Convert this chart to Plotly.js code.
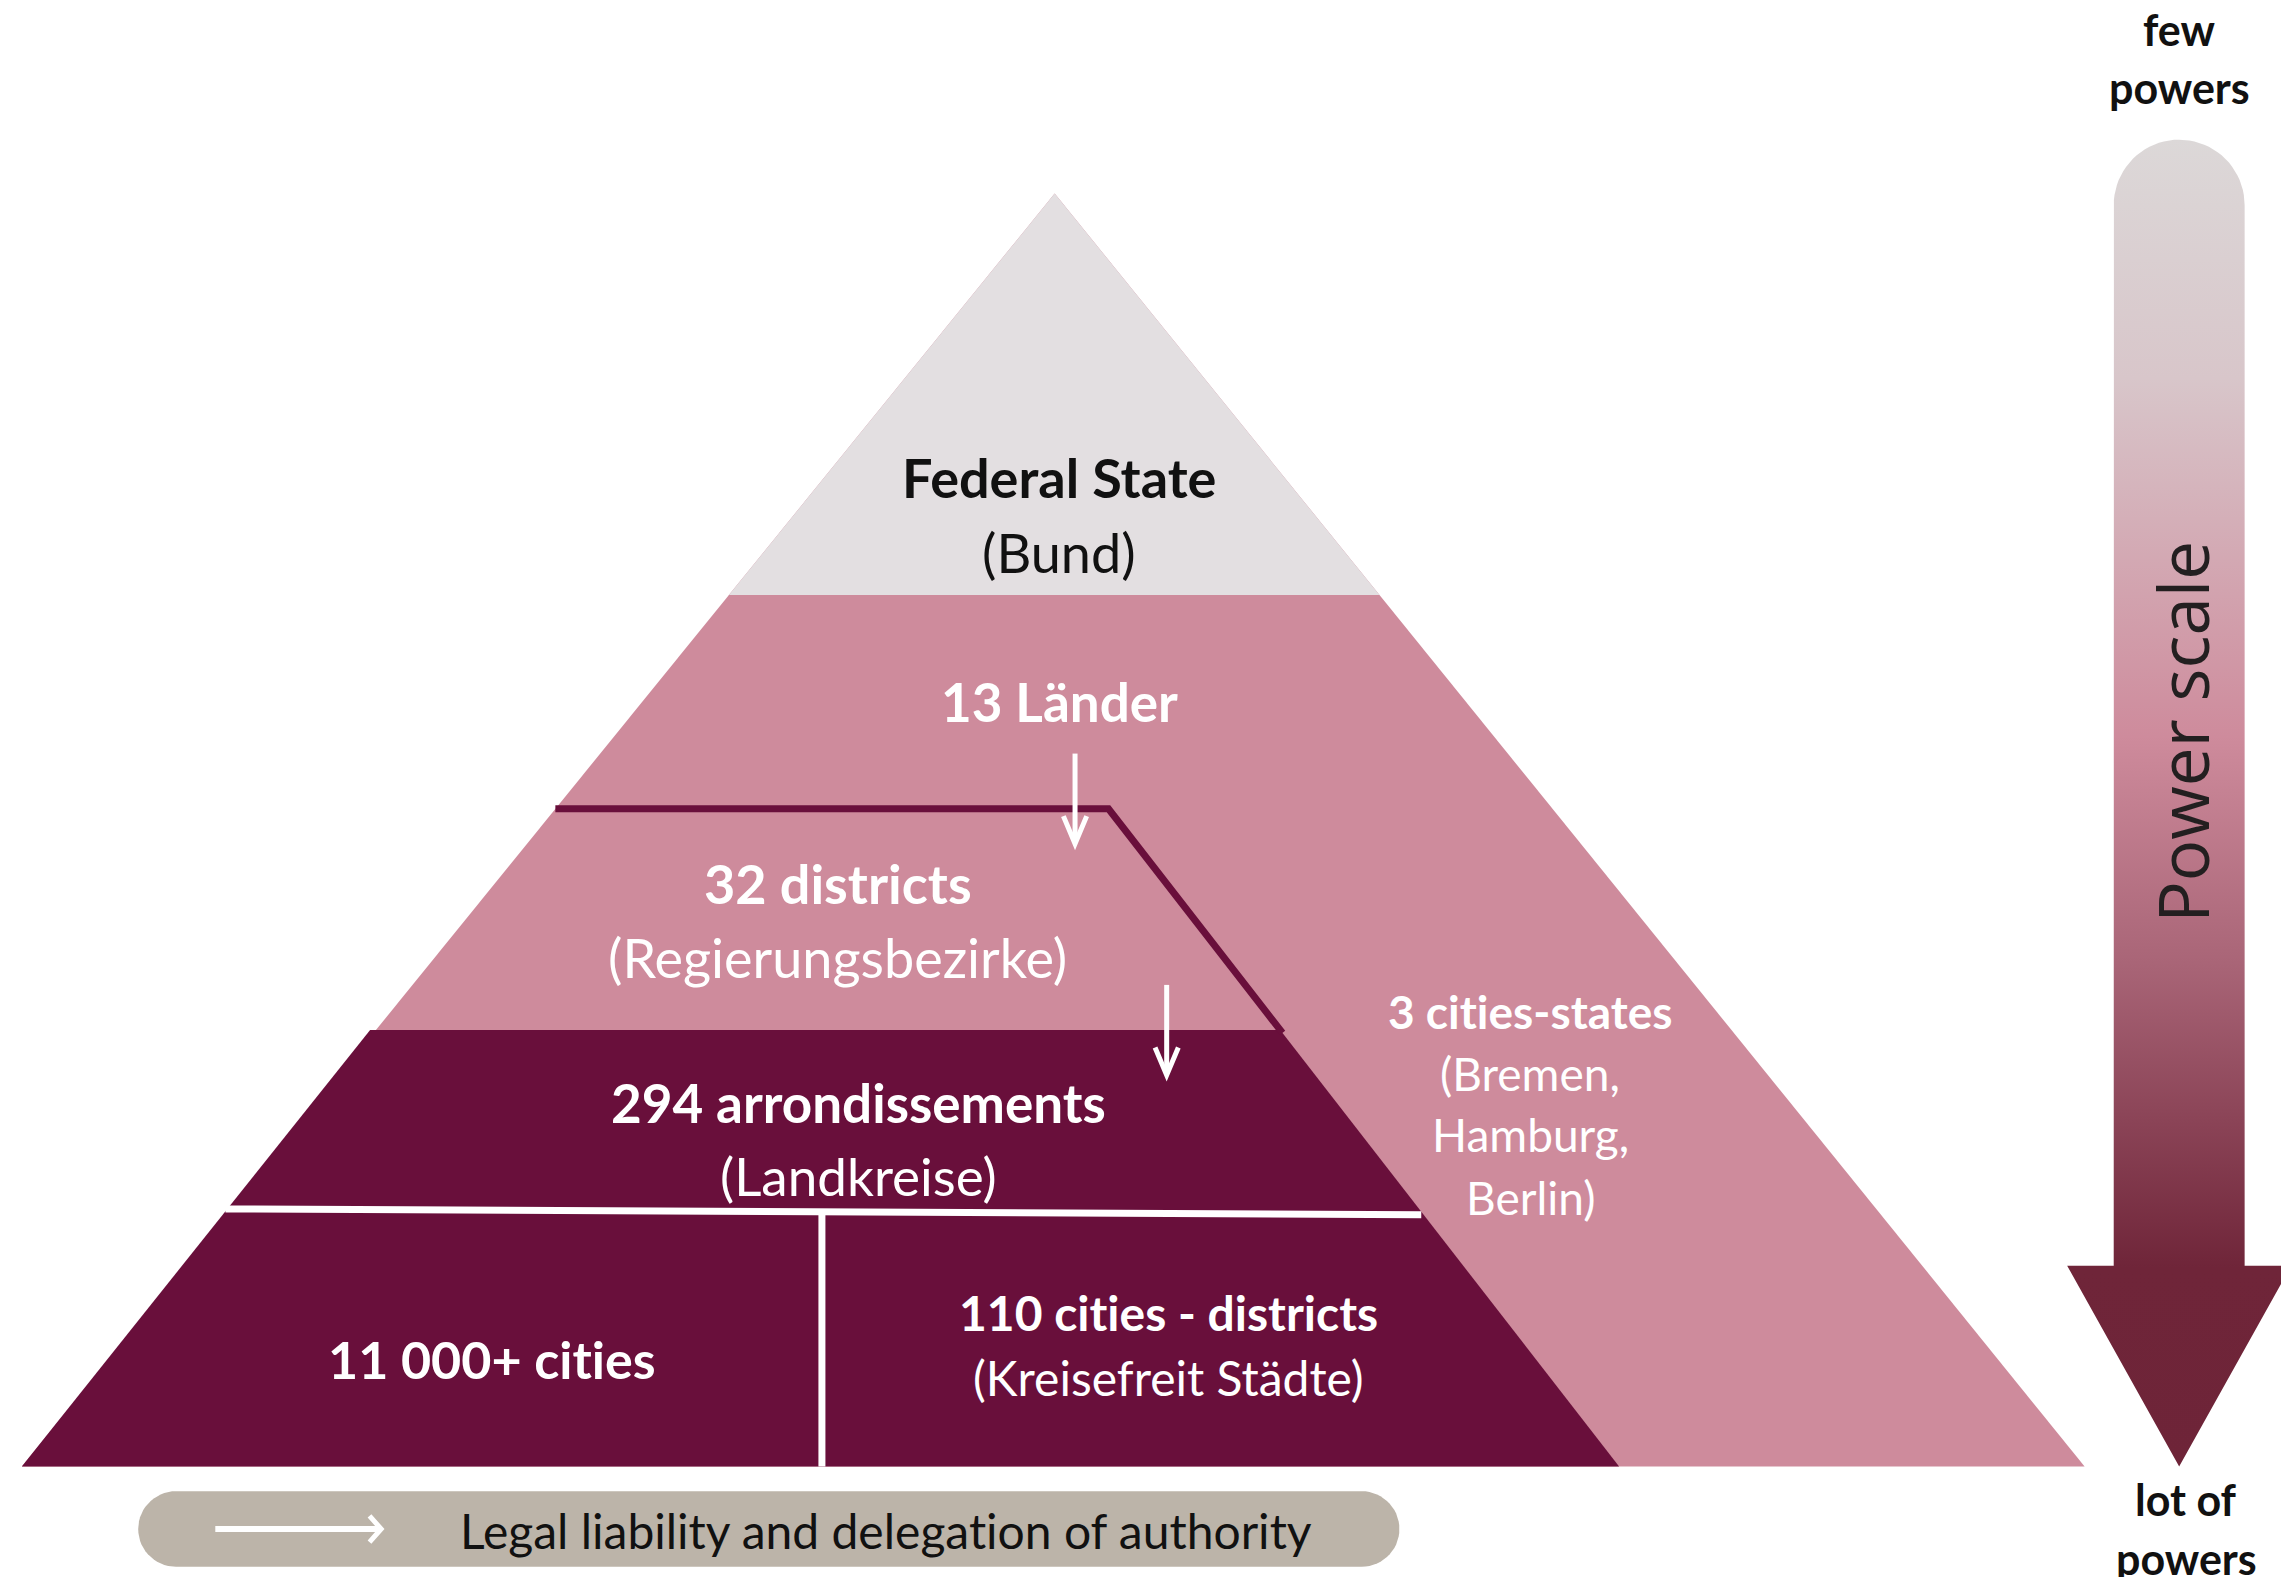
<!DOCTYPE html>
<html>
<head>
<meta charset="utf-8">
<script src="https://cdn.plot.ly/plotly-3.0.1.min.js"></script>
<style>
html,body{margin:0;padding:0;background:#ffffff;overflow:hidden}
#chart{width:2281px;height:1577px}
text{font-variant-ligatures:none;font-feature-settings:"liga" 0,"clig" 0}
</style>
</head>
<body>
<div id="chart"></div>
<script>
// ---------- content (text of the diagram) ----------
const levelTitles = ['Federal State', '13 Länder', '32 districts', '294 arrondissements', '11 000+ cities', '110 cities - districts', '3 cities-states'];
const levelSubtitles = [['(Bund)'], [], ['(Regierungsbezirke)'], ['(Landkreise)'], [], ['(Kreisefreit Städte)'], ['(Bremen,', 'Hamburg,', 'Berlin)']];
const scaleTopLabel = ['few', 'powers'];
const scaleBottomLabel = ['lot of', 'powers'];
const scaleTitle = 'Power scale';
const legendLabel = 'Legal liability and delegation of authority';

// ---------- layout geometry (drawing units, y downwards) ----------
const W = 1568, H = 1084;
const apex = [725, 133], baseY = 1008, baseL = 15, baseR = 1433;
const fedY = 409, lineY = 556, darkY = 708;
const innerTop = [762, 556], innerBase = [1113, 1008];
const leftAt = y => apex[0] + (baseL - apex[0]) * (y - apex[1]) / (baseY - apex[1]);
const rightAt = y => apex[0] + (baseR - apex[0]) * (y - apex[1]) / (baseY - apex[1]);
const innerAt = y => innerTop[0] + (innerBase[0] - innerTop[0]) * (y - innerTop[1]) / (innerBase[1] - innerTop[1]);

const textPos = [
  {t: [728, 328], s: [[728, 380]], c: '#111111', fs: 54},
  {t: [728, 482], s: [], c: '#ffffff', fs: 53},
  {t: [576, 607], s: [[576, 658]], c: '#ffffff', fs: 54},
  {t: [590, 758], s: [[590, 808]], c: '#ffffff', fs: 53},
  {t: [338, 934], s: [], c: '#ffffff', fs: 52},
  {t: [803, 902], s: [[803, 947]], c: '#ffffff', fs: 48},
  {t: [1052, 695], s: [[1052, 738], [1052, 780], [1052, 823]], c: '#ffffff', fs: 46}
];

const PINK = '#CE8B9C', LIGHT = '#E3DFE1', DARK = '#690F3B', PILL = '#BCB4A9';

function arc(cx, cy, r, a0, a1, n) {
  const pts = [];
  for (let i = 0; i <= n; i++) {
    const a = a0 + (a1 - a0) * i / n;
    pts.push([cx + r * Math.cos(a), cy + r * Math.sin(a)]);
  }
  return pts;
}
function poly(pts, color, extra) {
  return Object.assign({
    type: 'scatter', mode: 'lines', x: pts.map(p => p[0]), y: pts.map(p => p[1]),
    fill: 'toself', fillcolor: color, line: {width: 0, color: color}, hoverinfo: 'skip', showlegend: false
  }, extra || {});
}

const traces = [];
// whole pyramid (pink)
traces.push(poly([[apex[0], apex[1]], [baseR, baseY], [baseL, baseY]], PINK));
// federal level (top)
traces.push(poly([[apex[0], apex[1]], [rightAt(fedY), fedY], [leftAt(fedY), fedY]], LIGHT));
// dark lower block
traces.push(poly([[leftAt(darkY) - 4, darkY], [innerAt(darkY), darkY], [innerBase[0], baseY], [baseL, baseY]], DARK));

// power scale arrow with gradient
const sx0 = 1453, sx1 = 1543, capC = 141, shaftEnd = 870, headL = 1421, headR = 1575, tipY = 1008;
let arrowPts = [[sx0, shaftEnd], [sx0, capC]];
arrowPts = arrowPts.concat(arc(1498, capC, 45, Math.PI, 2 * Math.PI, 40));
arrowPts = arrowPts.concat([[sx1, shaftEnd], [headR, shaftEnd], [1498, tipY], [headL, shaftEnd], [sx0, shaftEnd]]);
traces.push({
  type: 'scatter', mode: 'lines', x: arrowPts.map(p => p[0]), y: arrowPts.map(p => p[1]),
  fill: 'toself', line: {width: 0, color: 'rgba(0,0,0,0)'}, hoverinfo: 'skip', showlegend: false,
  fillgradient: {
    type: 'vertical', start: 96, stop: 1008,
    colorscale: [[0, '#DCD8D8'], [0.18, '#D8C6CA'], [0.45, '#CE8B9C'], [0.62, '#A96577'], [0.85, '#6F2539'], [1, '#6E2438']]
  }
});

// legend pill
let pill = arc(121, 1051, 26, Math.PI / 2, 3 * Math.PI / 2, 30).concat(arc(936, 1051, 26, -Math.PI / 2, Math.PI / 2, 30));
traces.push(poly(pill, PILL));

// ---------- lines ----------
const shapes = [
  {type: 'path', xref: 'x', yref: 'y', path: `M ${leftAt(lineY)},${lineY} L ${innerTop[0]},${lineY} L ${innerAt(darkY + 2)},${darkY + 2}`,
   line: {color: DARK, width: 7}},
  {type: 'line', xref: 'x', yref: 'y', x0: 155, y0: 831, x1: 977, y1: 835, line: {color: '#ffffff', width: 7}},
  {type: 'line', xref: 'x', yref: 'y', x0: 565, y0: 834, x1: 565, y1: baseY, line: {color: '#ffffff', width: 7}},
  // white delegation arrows
  {type: 'path', xref: 'x', yref: 'y', path: 'M 739,518 L 739,579', line: {color: '#ffffff', width: 5}},
  {type: 'path', xref: 'x', yref: 'y', path: 'M 731,561 L 739,580 L 747,561', line: {color: '#ffffff', width: 5}},
  {type: 'path', xref: 'x', yref: 'y', path: 'M 802,677 L 802,738', line: {color: '#ffffff', width: 5}},
  {type: 'path', xref: 'x', yref: 'y', path: 'M 794,720 L 802,739 L 810,720', line: {color: '#ffffff', width: 5}},
  // legend arrow
  {type: 'path', xref: 'x', yref: 'y', path: 'M 148,1051 L 260,1051', line: {color: '#ffffff', width: 6}},
  {type: 'path', xref: 'x', yref: 'y', path: 'M 254,1042 L 262,1051 L 254,1060', line: {color: '#ffffff', width: 5}}
];

// ---------- text ----------
const annotations = [];
function addText(str, x, y, size, color, weight, extra) {
  annotations.push(Object.assign({
    text: str, x: x, y: y, xref: 'x', yref: 'y', showarrow: false, xanchor: 'center', yanchor: 'middle',
    font: {family: 'Lato, "Open Sans", sans-serif', size: size, color: color, weight: weight}
  }, extra || {}));
}
levelTitles.forEach((t, i) => {
  const p = textPos[i];
  addText(t, p.t[0], p.t[1], p.fs, p.c, 700);
  levelSubtitles[i].forEach((s, j) => addText(s, p.s[j][0], p.s[j][1], p.fs, p.c, 400));
});
addText(legendLabel, 609, 1052, 48, '#111111', 400);
addText(scaleTopLabel[0], 1498, 20, 43, '#111111', 700);
addText(scaleTopLabel[1], 1498, 60, 43, '#111111', 700);
addText(scaleBottomLabel[0], 1503, 1031, 43, '#111111', 700);
addText(scaleBottomLabel[1], 1503, 1071, 43, '#111111', 700);
annotations.push({
  text: scaleTitle, x: 1500, y: 503, xref: 'x', yref: 'y', showarrow: false, textangle: -90,
  xanchor: 'center', yanchor: 'middle',
  font: {family: '"Open Sans", "Noto Sans", sans-serif', size: 69, color: '#231F20', weight: 400}
});

const layout = {
  width: 2281, height: 1577,
  margin: {l: 0, r: 0, t: 0, b: 0, pad: 0},
  paper_bgcolor: '#ffffff', plot_bgcolor: '#ffffff',
  xaxis: {range: [0, W], visible: false, fixedrange: true},
  yaxis: {range: [H, 0], visible: false, fixedrange: true},
  shapes: shapes, annotations: annotations, showlegend: false
};
Plotly.newPlot('chart', traces, layout, {staticPlot: true, displayModeBar: false});
</script>
</body>
</html>
